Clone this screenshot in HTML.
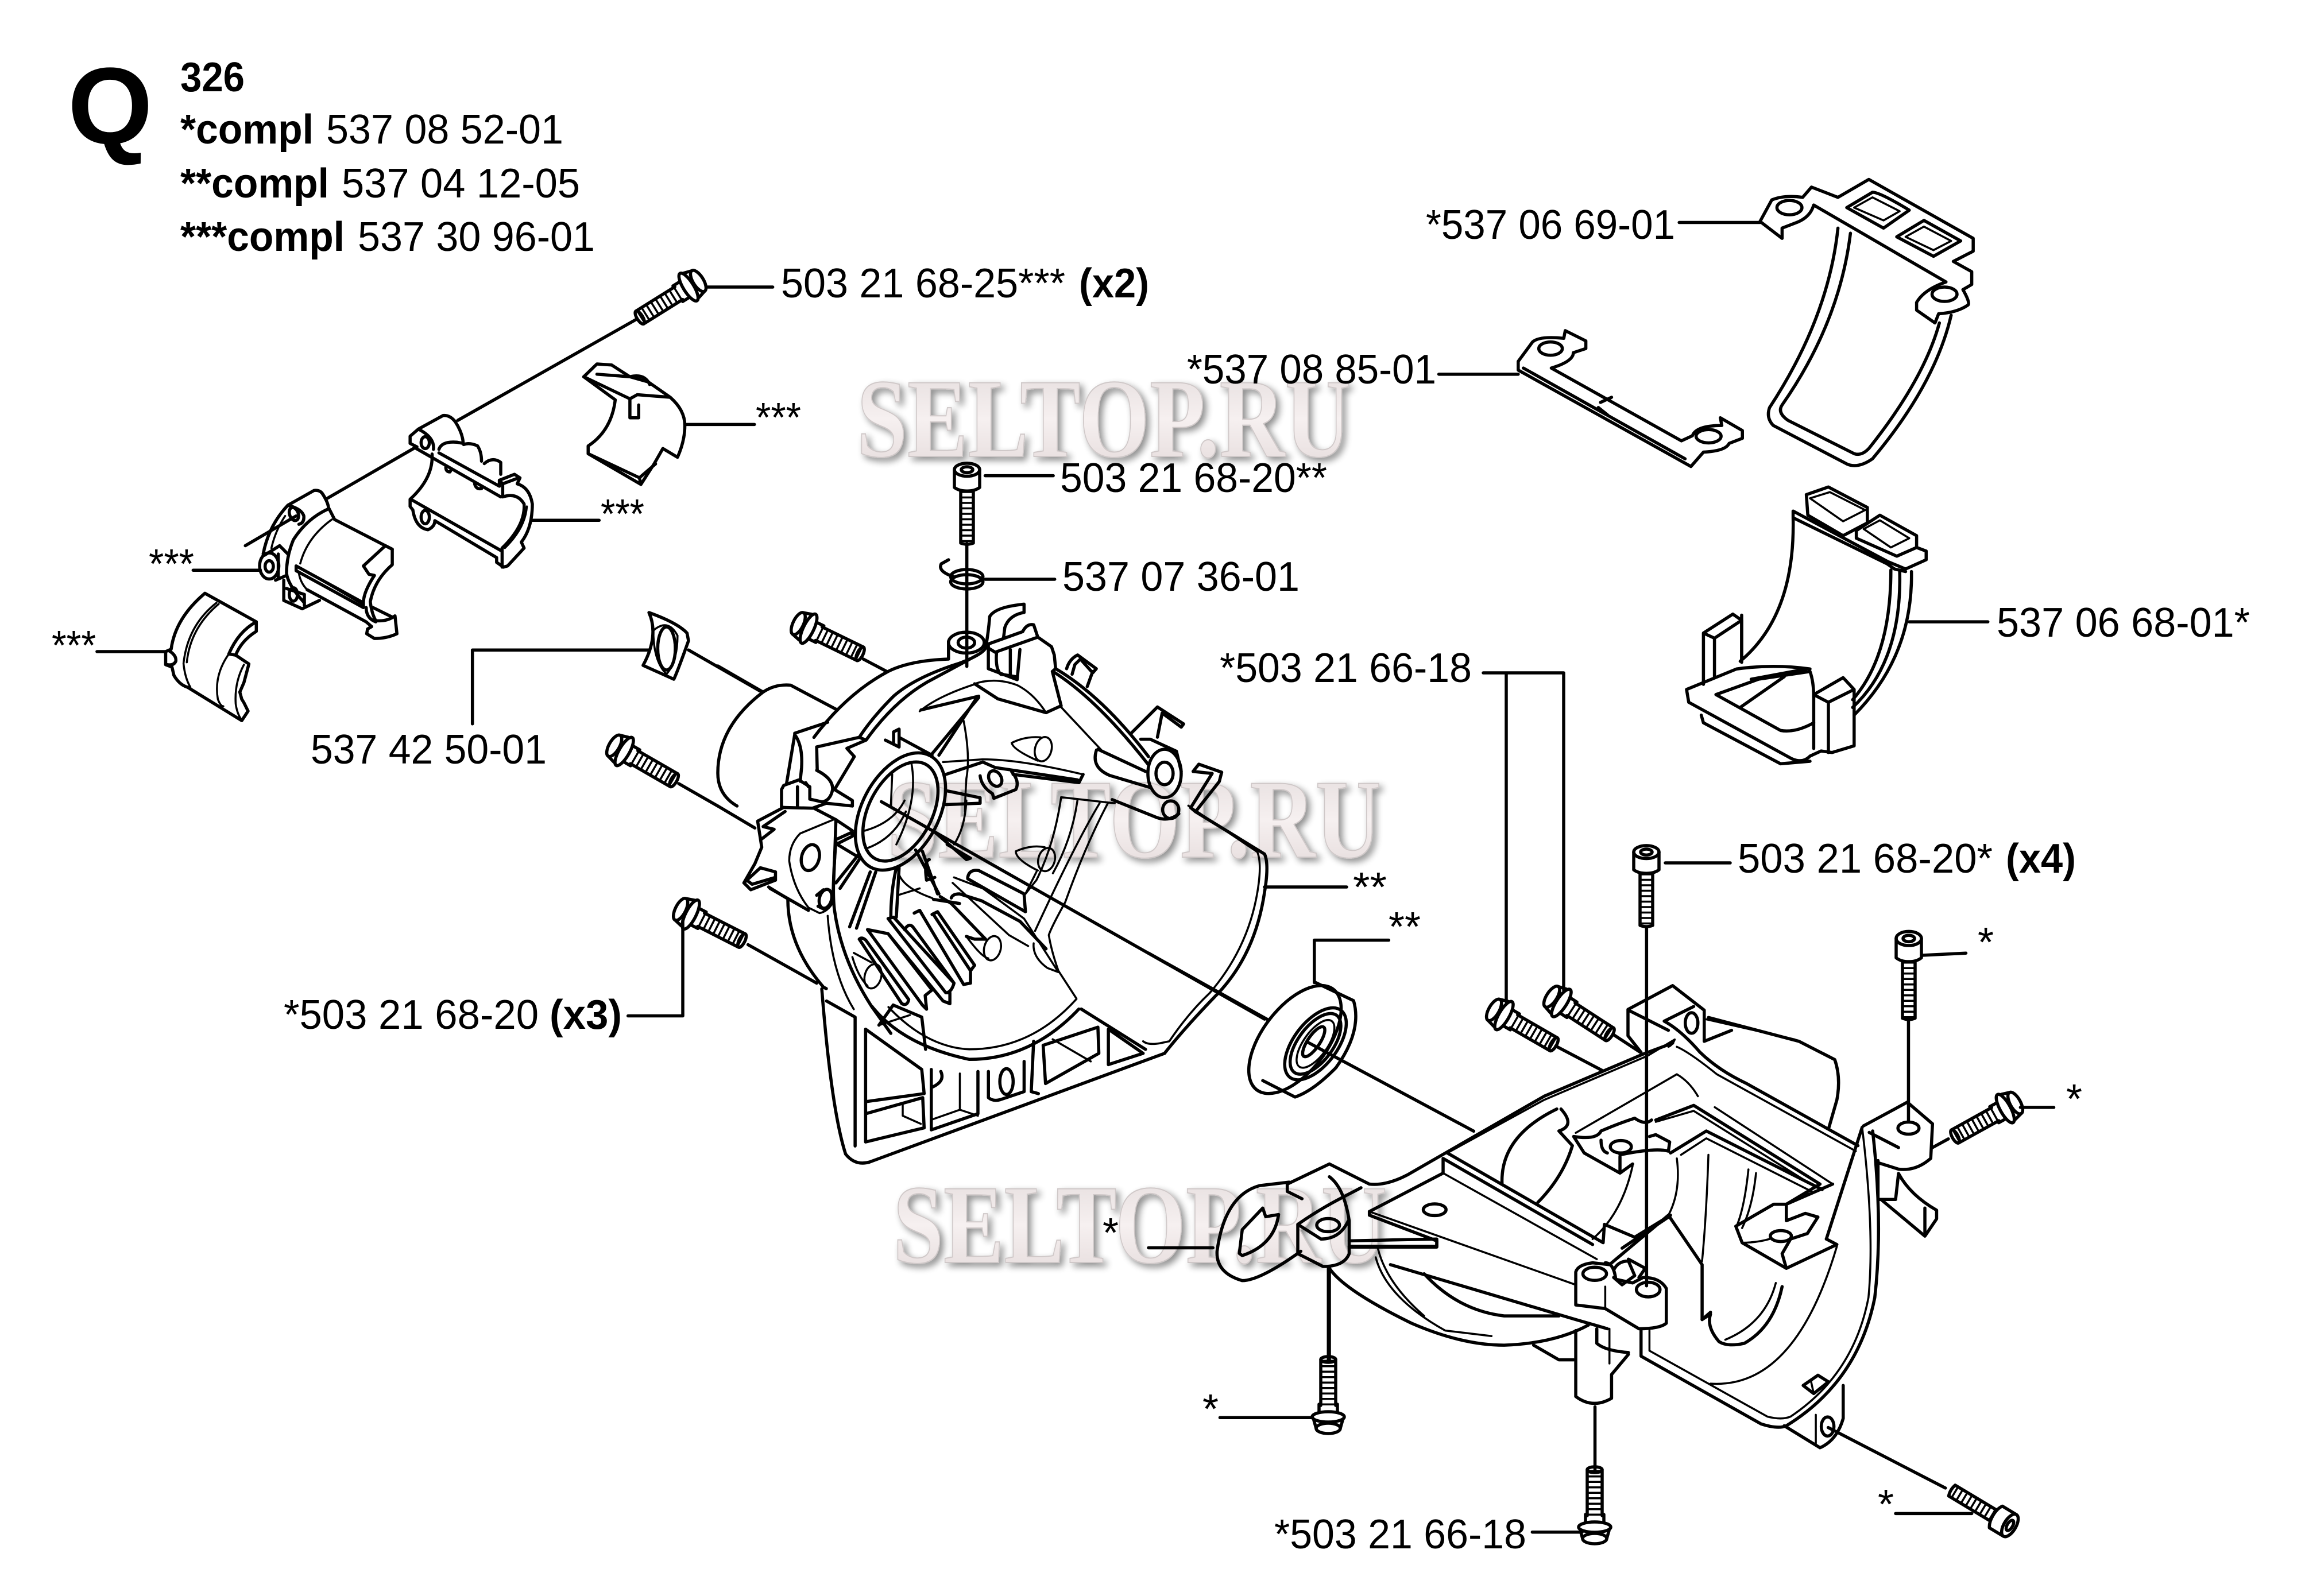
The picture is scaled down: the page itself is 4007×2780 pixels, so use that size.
<!DOCTYPE html>
<html><head><meta charset="utf-8"><style>
html,body{margin:0;padding:0;background:#fff}
svg{display:block}
path,line,ellipse,rect{fill:none;stroke:#000;stroke-width:5.5;vector-effect:non-scaling-stroke;stroke-linejoin:round;stroke-linecap:round}
.t,.t *{stroke-width:3.5}
.th{stroke-width:26;stroke-dasharray:3.5 6;stroke-linecap:butt}
text{font-family:"Liberation Sans",sans-serif;font-size:72px;fill:#000}
.b{font-weight:bold}
.wm{font-family:"Liberation Serif",serif;font-weight:bold;font-size:196px;fill:url(#wg);stroke:#cfc8c8;stroke-width:2;filter:url(#ws)}
</style></head><body>
<svg xmlns="http://www.w3.org/2000/svg" width="4007" height="2780" viewBox="0 0 4007 2780">
<defs>
<linearGradient id="wg" x1="0" y1="0" x2="0" y2="1"><stop offset="0" stop-color="#e2dada"/><stop offset=".5" stop-color="#f6f0f0"/><stop offset="1" stop-color="#e2d8d8"/></linearGradient>
<filter id="ws" x="-5%" y="-20%" width="110%" height="140%"><feGaussianBlur in="SourceAlpha" stdDeviation="6"/><feOffset dx="6" dy="6"/><feComponentTransfer><feFuncA type="linear" slope=".45"/></feComponentTransfer><feMerge><feMergeNode/><feMergeNode in="SourceGraphic"/></feMerge></filter>
<g id="bolt">
<ellipse cx="-20" cy="0" rx="9" ry="21"/><path d="M-20,-21L-6,-25M-20,21L-6,25"/><ellipse cx="0" cy="0" rx="9" ry="28"/>
<path d="M8,-16H22M8,16H22"/>
<line class="th" x1="20" y1="0" x2="100" y2="0"/>
<path d="M20,-13H100M20,13H100"/><ellipse cx="100" cy="0" rx="5" ry="13"/>
</g>
<g id="sock">
<ellipse cx="6" cy="0" rx="11" ry="22"/><ellipse cx="6" cy="0" rx="5" ry="10"/><path d="M6,-22H36Q42,-14 42,0Q42,14 36,22H6"/>
<line class="th" x1="42" y1="0" x2="130" y2="0" style="stroke-width:22"/>
<path d="M42,-11H130Q134,0 130,11H42"/>
</g>
</defs>

<!-- watermarks -->
<text class="wm" x="1492" y="795" textLength="860" lengthAdjust="spacingAndGlyphs">SELTOP.RU</text>
<text class="wm" x="1545" y="1493" textLength="860" lengthAdjust="spacingAndGlyphs">SELTOP.RU</text>
<text class="wm" x="1555" y="2199" textLength="860" lengthAdjust="spacingAndGlyphs">SELTOP.RU</text>

<!-- Z1 -->
<g transform="scale(1.2755,.8929)">
<path d="M870,622L625,820M965,560H1055"/>
<path d="M797,735L815,710L835,712L860,735L885,745L915,775Q935,800 935,830Q935,860 925,892L905,875L893,905L875,945L803,885V870Q835,840 840,780L797,735Z"/>
<path d="M797,735L860,778L870,770L915,775M815,730L860,735M803,885L873,932L875,945M873,932L895,905M860,780V815H872V790M860,735Q880,728 887,750"/>
<path d="M725,1015H818M935,828H1030"/>
<path d="M886,1195Q925,1215 938,1235L940,1250Q925,1310 920,1325L878,1298Q900,1240 886,1195Z"/>
<path class="t" d="M892,1230Q912,1205 925,1240Q925,1290 910,1315Q892,1290 892,1230Z"/>
<ellipse cx="910" cy="1265" rx="12" ry="42"/>
<path d="M885,1268H645V1412M940,1268L1040,1350"/>
<path d="M1320,1060V1300M1345,928H1438M1345,1130H1440M1302,1125Q1280,1115 1285,1100L1295,1092"/>
<ellipse cx="1320" cy="1125" rx="22" ry="14"/><ellipse cx="1320" cy="1135" rx="22" ry="14"/>
</g>

<!-- Crop C: clamps -->
<g transform="translate(200,650) scale(.4783,.4145)">
<path d="M328,925L515,1045V1085Q460,1125 440,1185L488,1222L470,1300L455,1340L462,1370L470,1385L485,1420L462,1460L265,1320Q235,1310 215,1270L208,1235L185,1225V1170L205,1160Q220,1030 328,925Z"/>
<path d="M195,1165Q225,1185 222,1210Q215,1230 190,1225M-65,1170H185M415,1180L440,1185M515,1045Q450,1085 415,1180"/>
<path class="t" d="M370,965Q265,1060 250,1220Q255,1280 275,1320M378,970Q275,1070 262,1215M500,1055Q440,1110 418,1178M415,1180Q360,1270 375,1370Q385,1400 395,1400M470,1225Q435,1300 440,1390Q445,1430 460,1455"/>
<path d="M630,555L725,493Q745,490 755,505Q775,540 778,565L800,615L985,725L1010,740V805Q945,870 930,960Q935,1010 950,1040Q990,1045 1020,1020L1027,1095Q990,1115 945,1115L917,1095L920,1075L935,1065L915,1045L700,910"/>
<path d="M630,555Q680,570 688,600Q690,630 670,635M630,555Q560,640 540,760M778,570Q700,610 650,700Q625,770 625,840Q630,890 690,965"/>
<path class="t" d="M620,600Q585,660 570,735M790,615Q700,690 675,800M670,840Q675,880 700,910"/>
<ellipse cx="652" cy="592" rx="16" ry="28" transform="rotate(-15 652 592)"/>
<ellipse cx="562" cy="810" rx="35" ry="55"/><ellipse cx="562" cy="812" rx="15" ry="24"/>
<path d="M545,765L600,725L630,760M595,760V860M585,870L625,850"/>
<path d="M660,810L905,965V985L660,830Z"/><path class="t" d="M670,815L900,970"/>
<path d="M905,810L985,725L1010,740M905,810L925,845L945,850Q905,920 905,965M915,985Q915,1030 950,1045M940,985L1010,1025"/>
<path d="M615,870V955L682,990L745,955M625,905L690,930V975"/>
<ellipse cx="650" cy="930" rx="15" ry="28"/>
<path d="M1090,315L775,525M660,600L475,725M285,828H530"/>
<path d="M1075,265L1105,235L1195,178Q1220,175 1240,205Q1265,250 1268,290M1105,235Q1165,270 1160,320M1075,265V295L1100,310M1095,315L1405,520M1180,335L1400,475V450M1180,320Q1190,285 1245,290L1268,295M1270,300Q1290,290 1320,305Q1335,330 1335,370M1345,380Q1375,350 1405,375V425M1205,395Q1205,415 1220,415L1225,405M1310,465Q1315,490 1335,485V475"/>
<ellipse cx="1130" cy="292" rx="15" ry="25"/>
<path d="M1400,450L1455,425L1475,440L1465,465Q1510,480 1520,550Q1520,650 1480,710L1490,735L1430,810L1415,815L1390,795V775L1165,620M1400,450L1412,465V520M1412,465L1470,440M1412,520Q1465,500 1490,550Q1495,640 1410,735V815"/>
<path class="t" d="M1500,560Q1495,650 1420,735"/>
<path d="M1155,340Q1160,440 1075,530V560L1085,575Q1095,650 1140,658Q1165,645 1165,620M1085,535L1405,745"/>
<ellipse cx="1130" cy="605" rx="15" ry="28"/>
</g>

<!-- Z2 -->
<g transform="translate(2000,0) scale(1.28,.8929)">
<path d="M832,432L848,390Q865,380 890,385L902,365L938,385L980,350L1122,465V490L1095,510L1120,530V555L1108,565Q1118,590 1115,595Q1100,610 1075,612L1070,630L1045,605V590Q1055,565 1085,550L905,400Q900,425 880,435L862,445V465L832,432Z"/>
<ellipse cx="872" cy="405" rx="17" ry="14"/><ellipse cx="1083" cy="574" rx="17" ry="14"/>
<path d="M950,405L985,375Q995,375 1035,410L1000,445ZM1018,462L1055,430L1105,470L1068,500Z"/>
<path class="t" d="M960,405L985,385L1022,412L1000,430ZM1030,462L1055,442L1092,470L1068,488Z"/>
<path d="M938,445Q925,620 845,795Q840,815 850,830L950,905Q965,915 985,895Q1070,750 1092,615M955,455Q940,630 862,790Q855,805 870,820L960,885Q970,890 980,875Q1055,740 1076,630M722,434H832"/>
<path d="M503,705L522,668Q530,655 565,660L567,645L595,665V680L578,688Q578,705 548,718L725,860L740,850Q745,830 780,830L778,815L808,840V855L790,865Q785,880 755,882L738,910L503,722ZM510,718L730,895M615,785L630,775M612,795L625,810M395,730H503"/>
<ellipse cx="547" cy="680" rx="16" ry="13"/><ellipse cx="762" cy="851" rx="17" ry="13"/>
<path d="M895,965L925,950L978,990V1020L945,1045L897,1005ZM963,1035L995,1005L1045,1045V1068L1018,1085L963,1050Z"/>
<path class="t" d="M900,972L927,960L975,995L945,1017ZM973,1032L995,1015L1035,1050L1010,1068Z"/>
<path d="M877,997L1005,1095L1030,1110L1058,1092V1075L1045,1068M877,997V1010L1005,1100L1015,1110L1030,1115M877,1010Q880,1200 805,1290M807,1200V1290M1010,1112Q1010,1280 958,1365M1038,1115Q1040,1280 960,1395M1022,1115Q1025,1290 958,1380"/>
<path d="M755,1235L795,1198L807,1210V1292M755,1235V1335M755,1235L770,1245L807,1210M770,1245V1320"/>
<path d="M732,1345L800,1305Q850,1295 900,1305M732,1345L735,1370L875,1480Q890,1490 900,1475L915,1465L930,1468L960,1455V1345L945,1322L905,1355V1460M905,1355L925,1370L960,1345M925,1370V1468"/>
<path d="M772,1355L830,1325L900,1310Q905,1330 905,1360M772,1355L860,1425Q880,1430 905,1410M805,1380L865,1320M820,1325L895,1305M752,1395L755,1410L860,1490L900,1485M1035,1213H1142"/>
</g>
<path d="M2583,1172H2723V1725M2623,1172V1745M2202,1545H2345M2900,1503H3013M1182,1365L1250,1404"/>

<!-- Crop A: crank top -->
<g transform="translate(1250,1050) scale(.4783)">
<path d="M530,205L615,250M0,230L165,325M165,325Q210,295 265,300L435,390M165,325Q0,450 0,620Q0,700 70,740M0,740L135,820M110,1245L360,1385"/>
<path d="M350,490Q470,330 620,250Q700,210 840,205V140M975,165Q960,190 880,220Q720,270 640,340Q560,420 515,490L360,525L362,610M540,500Q640,360 760,290Q900,215 945,190M515,490L540,500M470,530L497,560L425,680M540,500L470,530"/>
<ellipse cx="905" cy="145" rx="65" ry="38"/><ellipse cx="905" cy="145" rx="30" ry="20"/>
<path d="M360,610Q420,640 418,680Q410,720 380,725L335,715V670L295,645L240,665L232,680V745L345,748L395,730L490,740V720L425,680M280,480L250,660M280,475L400,435M280,480Q310,520 305,600L300,650M290,670V740M320,655L330,670"/>
<path d="M240,745L145,795L160,890L135,950L95,1020L120,1045L210,1010V980L155,965L95,1020M245,760L165,815L205,825L160,860M105,1010L125,1025L210,1000M185,1035L250,1075"/>
<path d="M350,748L430,790M430,790Q425,950 420,1050M360,1065L385,1045M365,1105L385,1115M190,1040L330,1120"/>
<path class="t" d="M420,790L300,840Q260,880 260,940Q275,1040 330,1110L370,1130Q400,1125 420,1090"/>
<ellipse cx="337" cy="928" rx="32" ry="48" transform="rotate(15 337 928)"/><ellipse cx="392" cy="1078" rx="22" ry="35" transform="rotate(15 392 1078)"/>
<path d="M255,1080Q255,1250 385,1400L395,1405"/>
<path d="M430,870Q415,1050 425,1120Q450,1300 560,1470L630,1568"/>
<path class="t" d="M400,1140Q415,1350 495,1480"/>
<path d="M435,860L490,835V850L430,880M430,790L490,830M435,880L510,925"/>
<path d="M610,500L660,525V460L640,470V510M660,490L780,555"/>
<ellipse cx="665" cy="760" rx="140" ry="230" transform="rotate(28 665 760)"/><ellipse cx="665" cy="760" rx="115" ry="195" transform="rotate(28 665 760)"/>
<path class="t" d="M705,585Q730,720 650,880M635,625L630,740M535,830Q640,800 680,720M540,895Q640,860 685,760"/>
<path d="M975,165Q985,110 990,50Q1010,15 1115,5V35Q1060,45 1045,90L1040,130M985,150L1110,105Q1125,75 1150,80L1165,125L1010,180L985,165ZM985,170V240L1090,280L1100,170M1015,180Q1010,240 1030,260L1090,270M1065,170V265"/>
<path d="M1165,125L1215,160L1225,190L1230,240L1218,250L1250,375L1195,400L1020,350L935,295M950,340L740,390"/>
<path class="t" d="M735,395Q800,340 940,295M935,295Q1010,270 1090,300Q1150,330 1195,400M1250,380L1400,540M895,430Q920,560 905,640Q900,720 900,760M905,720Q900,820 860,880"/>
<path d="M1220,250Q1380,350 1568,590M1230,240Q1400,340 1568,560M1270,240Q1280,205 1310,190L1378,240L1365,255L1320,205L1300,225L1290,260M1345,305L1365,250"/>
<path d="M780,550L950,345M805,555L940,350"/>
<path class="t" d="M1070,510Q1120,485 1175,490M1070,510Q1075,535 1165,575"/><ellipse class="t" cx="1185" cy="533" rx="30" ry="45" transform="rotate(15 1185 533)"/>
<path d="M830,625L965,580L1010,600L1310,645M1330,625L1315,655L1075,625M955,630Q960,670 1000,695L1005,712L1085,680Q1100,650 1070,615M835,685L955,710V730L830,735"/>
<path class="t" d="M820,580L965,570Q1100,570 1330,625"/>
<ellipse cx="1010" cy="640" rx="22" ry="30" transform="rotate(-30 1010 640)"/>
<g class="t"><path d="M1250,708L1445,730M1250,708Q1225,880 1160,1010L1120,1060M1420,730Q1340,880 1265,1090Q1215,1180 1205,1210Q1215,1270 1240,1340L1305,1440M1390,730Q1300,880 1155,1195"/></g>
<path class="t" d="M1310,715Q1290,860 1220,985"/>
<path class="t" d="M1085,905Q1140,880 1190,890M1085,905Q1085,935 1165,975M1160,980L1120,1060"/><ellipse class="t" cx="1197" cy="935" rx="30" ry="43" transform="rotate(15 1197 935)"/>
<path d="M910,1000Q915,970 950,975L1115,1060L1120,1125L910,1005Z"/>
<path d="M720,900L805,1060M745,905L800,1060M790,1000L760,1010Q750,940 770,935M835,880L920,930L905,935L790,835M430,1020L510,920M445,1040L515,935M480,1180L555,980M505,1185L575,980M630,1145Q630,1050 650,965M650,1145L660,965"/>
<path class="t" d="M655,1065L735,1040M660,990Q680,1040 780,1075"/>
<path d="M515,1225Q525,1215 540,1230L695,1445Q690,1470 670,1460ZM545,1190L620,1205L780,1410L755,1430L760,1480L745,1465ZM620,1150L830,1420H845V1460L820,1450L620,1205M620,1150L640,1145L860,1385Q850,1420 830,1420M680,1190Q695,1165 710,1180L860,1385M715,1130L735,1120L895,1390L920,1385V1340L785,1135M780,1135L800,1125L935,1320L920,1340"/>
<path d="M810,1070L850,1095L975,1225H935L905,1215M785,1080L880,1095M850,1075Q855,1060 880,1060L960,1085L1100,1160L1195,1260"/>
<path class="t" d="M860,1000L965,1040L1115,1150L1240,1345M855,1020L1060,1210L1130,1250M1150,1240Q1145,1290 1200,1330L1240,1345"/>
<ellipse class="t" cx="1000" cy="1258" rx="30" ry="45" transform="rotate(15 1000 1258)"/><path class="t" d="M905,1215Q960,1290 985,1295"/>
<ellipse class="t" cx="565" cy="1360" rx="30" ry="45" transform="rotate(15 565 1360)"/><path class="t" d="M490,1290Q510,1360 545,1395M495,1275L560,1310"/>
</g>

<!-- Z3 crank remainder -->
<g transform="translate(1000,1000) scale(.829,.7015)">
<path d="M645,565L1450,1105M113,1097H228V860"/>
<path d="M1097,437Q1085,480 1125,500L1210,530M1100,435L1200,490M1190,410H1210L1265,440L1275,490M1170,395L1225,330L1280,372L1275,380L1235,345L1225,405M1130,560L1225,605Q1250,615 1270,595"/>
<ellipse cx="1240" cy="495" rx="35" ry="60"/><ellipse cx="1240" cy="495" rx="18" ry="28"/><ellipse cx="1253" cy="585" rx="17" ry="22"/>
<path d="M1300,490L1312,472L1360,492L1355,515L1305,590L1295,580L1340,495L1300,490"/>
<path d="M1305,590L1450,695Q1460,720 1450,790Q1430,950 1345,1050Q1280,1130 1240,1190"/>
<path class="t" d="M1290,575L1435,690Q1445,720 1435,790Q1415,930 1335,1040Q1290,1090 1250,1160L1230,1165Q1205,1170 1195,1160"/>
<path d="M1240,1190L620,1460Q590,1470 570,1440Q540,1330 520,1030M530,1060L590,1100V1420"/>
<path d="M625,1073Q690,1170 830,1205Q960,1205 1060,1080"/><path class="t" d="M660,1075Q740,1175 830,1180Q960,1180 1055,1055"/>
<path d="M612,1130L730,1230L735,1290L612,1310ZM612,1130V1410M612,1340L732,1300L735,1375L612,1410ZM750,1230V1380L848,1340V1235M770,1235Q780,1260 750,1275"/>
<path class="t" d="M630,1335L690,1315V1345L728,1365M750,1355L810,1330L848,1345M810,1240V1330"/>
<path d="M870,1235V1300Q880,1310 895,1305L945,1285V1210M965,1160L960,1285L975,1290M985,1170L1100,1125L1102,1190L990,1265ZM1122,1130L1195,1190L1122,1218ZM1065,1080L1200,1180"/>
<path class="t" d="M1005,1155L1085,1210"/>
<ellipse cx="908" cy="1260" rx="14" ry="32"/>
<path d="M640,1120L670,1070L730,1100L738,1180"/><path class="t" d="M640,1120L705,1095"/>
</g>

<!-- Z4 remainder -->
<g transform="translate(2000,1600) scale(1.0204,.7526)">
<ellipse cx="250" cy="280" rx="60" ry="135" transform="rotate(25 250 280)"/>
<path d="M285,148L350,190Q365,260 320,345Q280,400 250,413L195,375"/>
<ellipse cx="285" cy="290" rx="40" ry="90" transform="rotate(25 285 290)"/><ellipse cx="285" cy="290" rx="32" ry="76" transform="rotate(25 285 290)"/><ellipse cx="285" cy="290" rx="22" ry="60" transform="rotate(25 285 290)" class="t"/><ellipse cx="282" cy="285" rx="11" ry="38" transform="rotate(25 282 285)"/>
<path d="M283,148V50H410M0,80L205,235M270,285L555,492"/>
<path d="M1220,480L1295,425L1338,475L1335,555Q1310,585 1280,580L1245,565M1230,495L1280,530"/>
<ellipse cx="1297" cy="485" rx="18" ry="14"/>
<path d="M1245,560V650H1275L1280,590M1280,590Q1300,640 1345,675V695L1325,735L1250,650M1325,670V735"/>
<path d="M1160,1178L1360,1318"/>
<path d="M190,618Q130,640 117,770Q115,820 160,838Q190,838 260,770M190,618L240,610M155,775L160,720L195,670L200,690L222,685Q215,755 160,780Z"/>
<path d="M850,20V850M1297,235V470M1338,530L1365,510M307,810V1025M762,1130V1275"/>
<path d="M0,762H110M122,1155H280M1275,1377H1405M655,1420H740M1320,85L1395,80M1488,437H1545M695,295L775,352M795,270L840,310"/>
</g>

<!-- Crop B: crankcase -->
<g transform="translate(2150,1750) scale(.7334,.6378)">
<path d="M125,490L225,435L320,490Q360,495 410,465L735,250L970,135L1040,105"/>
<path class="t" d="M505,405L735,260L980,140L1045,95Q1040,110 1030,115"/>
<path d="M495,420V460L320,565M495,420L850,655M505,405L875,650L878,600L950,635L1035,575"/>
<path class="t" d="M495,460L860,695M320,565L810,765"/>
<path d="M320,565V575L480,645V662L272,662M370,710L810,860L885,885"/>
<ellipse cx="475" cy="560" rx="27" ry="16"/>
<path d="M225,720Q260,780 420,870Q540,930 640,930Q760,925 840,875M450,735Q530,835 640,850L770,850M710,930L770,970H805"/>
<path class="t" d="M340,665Q360,760 450,850M335,690Q360,800 500,890L610,905"/>
<path d="M810,890V1070Q850,1105 895,1075V1010L935,955M860,885V925Q880,945 935,950"/><path class="t" d="M890,885V980"/>
<path d="M810,730Q815,710 850,705L890,710L1030,575L1110,710V860L1130,840M810,730V820L880,830L960,885Q1010,885 1025,870V775Q1010,745 970,745L945,760L905,750Q900,705 880,705"/>
<ellipse cx="855" cy="735" rx="28" ry="18"/><ellipse cx="982" cy="778" rx="28" ry="20"/>
<path d="M900,725Q910,700 935,700L950,740L920,765L900,745M935,695L975,720L960,745M920,665L1030,580"/><path class="t" d="M880,770V830"/>
<path d="M978,0V745"/>
<path d="M965,890V960L1250,1145Q1290,1160 1310,1150Q1480,1030 1520,800Q1540,600 1515,345"/>
<path class="t" d="M985,890V945L1265,1125Q1300,1135 1320,1125Q1470,1010 1505,800Q1520,620 1490,335"/>
<path d="M1490,335L1405,640"/>
<path d="M1150,920Q1170,935 1210,925Q1280,880 1300,770M1150,920Q1120,880 1130,845L1110,860M1310,720L1430,655L1405,640M1310,720L1205,650L1190,605L1280,545L1310,545V590L1355,570L1385,580L1360,625L1320,640L1300,680L1310,720"/>
<path class="t" d="M1165,915Q1260,870 1285,760M1205,650Q1240,650 1270,640"/>
<ellipse cx="1297" cy="632" rx="25" ry="15"/>
<path class="t" d="M1130,1035Q1330,1050 1430,660"/>
<path class="t" d="M810,350L1050,190Q1080,210 1100,250M1140,280L1420,490"/>
<path d="M1000,315L1090,275L1390,490L1310,545M1035,405L1120,345L1395,505M1420,490L1310,545"/>
<path class="t" d="M1000,320L1090,290L1375,495M1060,410L1120,365L1370,510"/>
<path d="M805,360Q860,370 870,345Q910,325 950,310Q975,330 990,315M830,405L915,460V415M915,410Q1000,390 1030,400L1033,375L1000,355L985,360M870,370Q870,400 885,405M915,460L945,435M805,360L830,405"/>
<ellipse cx="917" cy="388" rx="25" ry="17"/>
<path d="M765,285Q630,360 635,490M775,285Q810,330 770,345L802,385Q780,470 720,540"/>
<path class="t" d="M945,440Q920,570 850,640M1050,420Q1060,510 1030,575M1125,410Q1120,580 1110,700M1220,450Q1210,560 1190,610M1238,460Q1230,550 1205,610"/>
<path d="M934,13L1040,-52L1115,15V100L1180,70M934,13V85L965,130M935,15L1030,70M1020,45L1090,5M1020,45Q1060,70 1105,130Q1150,180 1215,215L1480,385M1125,35L1340,100L1425,150Q1440,200 1430,260L1410,340"/>
<path class="t" d="M1050,115Q1080,130 1145,190L1475,400M1120,40L1330,95"/>
<ellipse cx="1085" cy="50" rx="15" ry="28"/>
<path d="M150,600V680L210,715Q260,715 272,680V590Q260,500 225,470M150,600Q200,560 250,530L300,500M125,490V510L160,530M150,600L205,640Q250,640 270,590"/>
<ellipse cx="222" cy="602" rx="27" ry="18"/>
<path d="M272,645L480,640V660L272,660M225,715V970"/>
<path d="M1305,1150L1390,1210Q1430,1190 1445,1130V1040M1350,1040L1385,1012L1410,1030L1375,1062Z"/>
<path class="t" d="M1368,1025L1375,1062M1380,1120V1200"/>
<ellipse cx="1408" cy="1152" rx="15" ry="26"/>
</g>

<!-- fasteners -->
<use href="#bolt" transform="translate(1199,500) rotate(148)"/>
<use href="#bolt" transform="translate(1408,1095) rotate(26)"/>
<use href="#bolt" transform="translate(1087,1309) rotate(30)"/>
<use href="#bolt" transform="translate(1203,1593) rotate(27)"/>
<use href="#bolt" transform="translate(2619,1769) rotate(30)"/>
<use href="#bolt" transform="translate(2719,1747) rotate(33)"/>
<use href="#bolt" transform="translate(3492,1931) rotate(151)"/>
<use href="#bolt" transform="translate(2313,2468) rotate(-90)"/>
<use href="#bolt" transform="translate(2777,2660) rotate(-90)"/>
<use href="#sock" transform="translate(1684,812) rotate(90) scale(1.03,1)"/>
<use href="#sock" transform="translate(3324,1628) rotate(90) scale(1.12,1)"/>
<use href="#sock" transform="translate(2867,1478) rotate(90) scale(1.03,1)"/>
<use href="#sock" transform="translate(3505,2660) rotate(-149) scale(.95,1)"/>

<!-- text -->
<text class="b" x="118" y="250" style="font-size:190px">Q</text>
<text class="b" x="314" y="159" textLength="112" lengthAdjust="spacingAndGlyphs">326</text>
<text class="b" x="314" y="250" textLength="232" lengthAdjust="spacingAndGlyphs">*compl</text><text x="568" y="250" textLength="413" lengthAdjust="spacingAndGlyphs">537 08 52-01</text>
<text class="b" x="314" y="344" textLength="259" lengthAdjust="spacingAndGlyphs">**compl</text><text x="595" y="344" textLength="415" lengthAdjust="spacingAndGlyphs">537 04 12-05</text>
<text class="b" x="314" y="437" textLength="286" lengthAdjust="spacingAndGlyphs">***compl</text><text x="623" y="437" textLength="413" lengthAdjust="spacingAndGlyphs">537 30 96-01</text>
<text x="1360" y="518" textLength="495" lengthAdjust="spacingAndGlyphs">503 21 68-25***</text><text class="b" x="1879" y="518" textLength="122" lengthAdjust="spacingAndGlyphs">(x2)</text>
<text x="1316" y="752" textLength="79" lengthAdjust="spacingAndGlyphs">***</text>
<text x="1046" y="920" textLength="76" lengthAdjust="spacingAndGlyphs">***</text>
<text x="259" y="1007" textLength="79" lengthAdjust="spacingAndGlyphs">***</text>
<text x="90" y="1149" textLength="77" lengthAdjust="spacingAndGlyphs">***</text>
<text x="541" y="1330" textLength="411" lengthAdjust="spacingAndGlyphs">537 42 50-01</text>
<text x="1846" y="857" textLength="465" lengthAdjust="spacingAndGlyphs">503 21 68-20**</text>
<text x="1850" y="1029" textLength="413" lengthAdjust="spacingAndGlyphs">537 07 36-01</text>
<text x="2483" y="416" textLength="434" lengthAdjust="spacingAndGlyphs">*537 06 69-01</text>
<text x="2067" y="668" textLength="434" lengthAdjust="spacingAndGlyphs">*537 08 85-01</text>
<text x="3477" y="1109" textLength="441" lengthAdjust="spacingAndGlyphs">537 06 68-01*</text>
<text x="2124" y="1188" textLength="439" lengthAdjust="spacingAndGlyphs">*503 21 66-18</text>
<text x="3026" y="1520" textLength="444" lengthAdjust="spacingAndGlyphs">503 21 68-20*</text><text class="b" x="3493" y="1520" textLength="122" lengthAdjust="spacingAndGlyphs">(x4)</text>
<text x="494" y="1792" textLength="444" lengthAdjust="spacingAndGlyphs">*503 21 68-20</text><text class="b" x="957" y="1792" textLength="126" lengthAdjust="spacingAndGlyphs">(x3)</text>
<text x="2356" y="1570" textLength="59" lengthAdjust="spacingAndGlyphs">**</text>
<text x="2418" y="1639" textLength="56" lengthAdjust="spacingAndGlyphs">**</text>
<text x="3444" y="1666">*</text>
<text x="3598" y="1939">*</text>
<text x="1920" y="2172">*</text>
<text x="2094" y="2479">*</text>
<text x="3270" y="2645">*</text>
<text x="2219" y="2697" textLength="439" lengthAdjust="spacingAndGlyphs">*503 21 66-18</text>
</svg>
</body></html>
